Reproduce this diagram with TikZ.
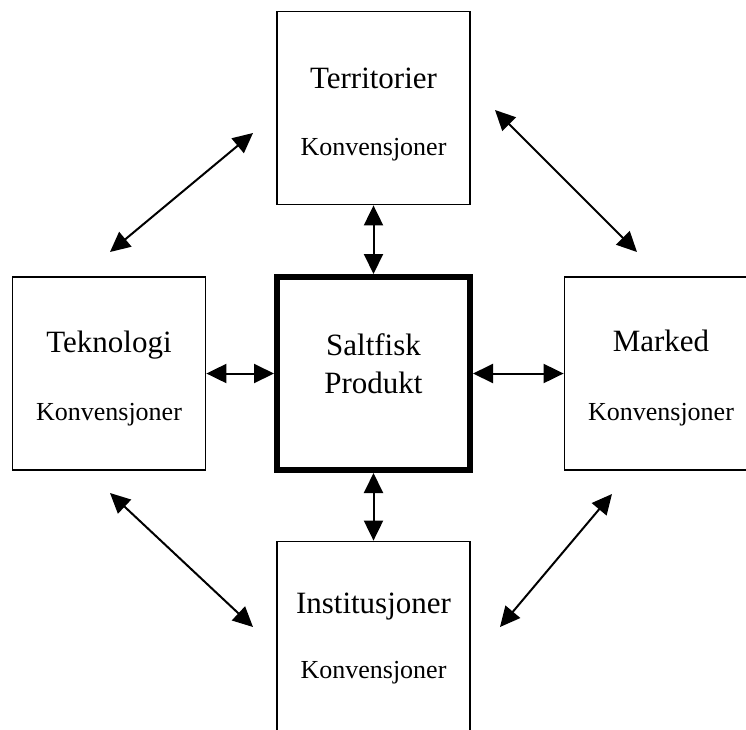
\documentclass[tikz,border=0pt]{standalone}
\usepackage{fontspec}
\setmainfont{Liberation Serif}
\usetikzlibrary{arrows.meta,positioning}
\begin{document}
\begin{tikzpicture}[x=1pt,y=-1pt,
    boks/.style={draw,line width=1.8pt,minimum size=193pt,inner sep=0pt},
    senter/.style={draw,line width=6pt,minimum size=193pt,inner sep=0pt},
    tittel/.style={anchor=base,inner sep=0pt,font=\fontsize{31}{37}\selectfont},
    konv/.style={anchor=base,inner sep=0pt,font=\fontsize{26}{31}\selectfont},
    pil/.style={line width=2pt,{Triangle[length=20pt,width=19pt]}-{Triangle[length=20pt,width=19pt]}}]
  \clip (0,0) rectangle (746,729);
  % boksene
  \node[boks] (terr) at (373.5,108) {};
  \node[boks] (tek) at (109,373.5) {};
  \node[senter] (prod) at (373.5,373.5) {};
  \node[boks] (mark) at (661,373.5) {};
  \node[boks] (inst) at (373.5,638) {};
  % tekst
  \node[tittel] (terrT) at ([yshift=-78pt]terr.north) {Territorier};
  \node[konv] (terrK) at ([yshift=-145pt]terr.north) {Konvensjoner};
  \node[tittel] (tekT) at ([yshift=-76pt]tek.north) {Teknologi};
  \node[konv] (tekK) at ([yshift=-144pt]tek.north) {Konvensjoner};
  \node[tittel] (markT) at ([yshift=-75pt]mark.north) {Marked};
  \node[konv] (markK) at ([yshift=-144pt]mark.north) {Konvensjoner};
  \node[tittel] (instT) at ([yshift=-73pt]inst.north) {Institusjoner};
  \node[konv] (instK) at ([yshift=-138pt]inst.north) {Konvensjoner};
  \node[tittel] (prodS) at (373.5,355) {Saltfisk};
  \node[tittel] (prodP) at (373.5,393) {Produkt};
  % piler
  \draw[pil] (terr) -- (prod);
  \draw[pil] (tek) -- (prod);
  \draw[pil] (prod) -- (mark);
  \draw[pil] (prod) -- (inst);
  \coordinate (tlA) at (110,252); \coordinate (tlB) at (253,133);
  \coordinate (trA) at (495,110); \coordinate (trB) at (637,252);
  \coordinate (blA) at (110,493); \coordinate (blB) at (253,627);
  \coordinate (brA) at (612,494); \coordinate (brB) at (500,627);
  \draw[pil] (tlA) -- (tlB);
  \draw[pil] (trA) -- (trB);
  \draw[pil] (blA) -- (blB);
  \draw[pil] (brA) -- (brB);
\end{tikzpicture}
\end{document}
